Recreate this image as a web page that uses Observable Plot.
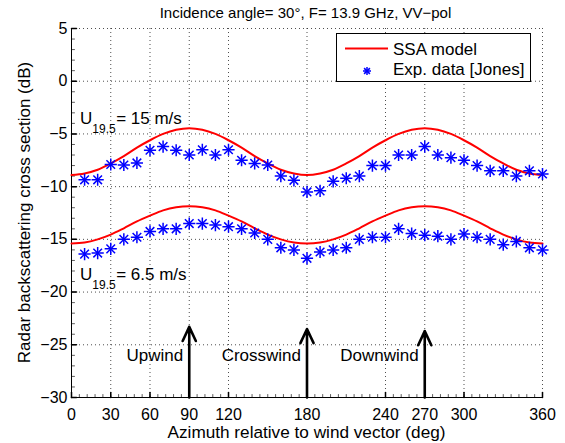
<!DOCTYPE html>
<html><head><meta charset="utf-8">
<script src="https://cdn.jsdelivr.net/npm/d3@7"></script>
<script src="https://cdn.jsdelivr.net/npm/@observablehq/plot@0.6"></script>
<style>
body{margin:0;background:#fff;}
#chart{width:565px;height:443px;}
#chart svg{font-family:"Liberation Sans",Arial,Helvetica,sans-serif;}
</style></head><body><div id="chart"></div>
<script>
// ---- data ----
const titleText = "Incidence angle= 30°, F= 13.9 GHz, VV−pol";
const xLabel = "Azimuth relative to wind vector (deg)";
const yLabel = "Radar backscattering cross section (dB)";

const azModel = [0,10,20,30,40,50,60,70,80,90,100,110,120,130,140,150,160,170,180,
                 190,200,210,220,230,240,250,260,270,280,290,300,310,320,330,340,350,360];
const ssaHigh = [-8.9,-8.75,-8.4,-7.8,-7.1,-6.3,-5.6,-5.0,-4.6,-4.45,-4.6,-5.0,-5.6,-6.3,-7.1,-7.8,-8.4,-8.75,-8.9,
                 -8.75,-8.4,-7.8,-7.1,-6.3,-5.6,-5.0,-4.6,-4.45,-4.6,-5.0,-5.6,-6.3,-7.1,-7.8,-8.4,-8.75,-8.9];
const ssaLow  = [-15.4,-15.3,-15.0,-14.55,-13.95,-13.3,-12.75,-12.25,-11.95,-11.85,-11.95,-12.25,-12.75,-13.3,-13.95,-14.55,-15.0,-15.3,-15.4,
                 -15.3,-15.0,-14.55,-13.95,-13.3,-12.75,-12.25,-11.95,-11.85,-11.95,-12.25,-12.75,-13.3,-13.95,-14.55,-15.0,-15.3,-15.4];

const azExp = [10,20,30,40,50,60,70,80,90,100,110,120,130,140,150,160,170,180,
               190,200,210,220,230,240,250,260,270,280,290,300,310,320,330,340,350,360];
const expHigh = [-9.35,-9.35,-7.9,-7.95,-7.75,-6.55,-6.2,-6.55,-7.0,-6.5,-7.0,-6.5,-7.5,-7.8,-7.95,-9.0,-9.4,-10.5,
                 -10.4,-9.5,-9.2,-9.0,-8.0,-8.0,-7.0,-7.0,-6.2,-7.0,-7.25,-7.5,-8.0,-8.5,-8.5,-9.0,-8.5,-8.8];
const expLow  = [-16.4,-16.3,-15.9,-15.0,-14.8,-14.25,-14.0,-14.0,-13.5,-13.5,-13.65,-13.8,-14.0,-14.4,-15.0,-15.8,-16.0,-16.8,
                 -16.2,-16.0,-15.8,-15.0,-14.8,-14.8,-14.0,-14.45,-14.6,-14.7,-15.0,-14.5,-14.8,-15.0,-15.5,-15.2,-15.8,-16.0];

const xTicks = [0,30,60,90,120,180,240,270,300,360];
const yTicks = [5,0,-5,-10,-15,-20,-25,-30];
const xMinor = d3.range(0, 361, 6);
const yMinor = d3.range(-30, 5.01, 1);

const windNames = ["Upwind","Crosswind","Downwind"];
const windAz = [90,180,270];
const windTip = [-23.3,-23.5,-23.7];
const windLabelDb = -26.0;
const windBase = -30;

const speedLabels = ["= 15 m/s","= 6.5 m/s"];
const speedSub = "19.5";
const speedDb = [-4.1,-18.9];

const legendNames = ["SSA model","Exp. data [Jones]"];

// ---- tables built from the arrays ----
const model = azModel.flatMap((a,i)=>[{az:a,db:ssaHigh[i],s:"high"},{az:a,db:ssaLow[i],s:"low"}]);
const exp = azExp.flatMap((a,i)=>[{az:a,db:expHigh[i]},{az:a,db:expLow[i]}]);
const wind = windNames.map((n,i)=>({name:n,az:windAz[i],tip:windTip[i],base:windBase}));

const tickShape = {draw(ctx,l){ctx.moveTo(0,0);ctx.lineTo(0,-l);}};
const minus = d => d < 0 ? "−" + (-d) : String(d);
const BLUE = "#0000ff", RED = "#ff0000";
const FONT = '"Liberation Sans",Arial,Helvetica,sans-serif';

// annotation marks drawn with d3 inside Plot function marks
function textLayer(index, scales, values, dim) {
  const g = d3.create("svg:g").attr("fill","black").attr("font-family",FONT);
  const cx = (dim.marginLeft + dim.width - dim.marginRight)/2;
  const cy = (dim.marginTop + dim.height - dim.marginBottom)/2;
  g.append("text").attr("x", cx-1).attr("y", 18).attr("text-anchor","middle")
    .attr("font-size",15).text(titleText);
  g.append("text").attr("x", cx).attr("y", dim.height-5).attr("text-anchor","middle")
    .attr("font-size",17.2).text(xLabel);
  g.append("text").attr("transform",`translate(30,${cy}) rotate(-90)`).attr("text-anchor","middle")
    .attr("font-size",17).text(yLabel);
  speedLabels.forEach((s,i)=>{
    const t = g.append("text").attr("text-anchor","start").attr("x", scales.x(0)+9)
      .attr("y", scales.y(speedDb[i])).attr("font-size",17);
    t.append("tspan").text("U");
    t.append("tspan").attr("dy",9.5).attr("font-size",12).text(speedSub);
    t.append("tspan").attr("dy",-9.5).attr("dx",0.5).text(s);
  });
  return g.node();
}
function legendLayer(index, scales, values, dim) {
  const right = dim.width - dim.marginRight - 12, top = dim.marginTop + 5;
  const w = 194, h = 48, left = right - w;
  const g = d3.create("svg:g").attr("font-family",FONT);
  g.append("rect").attr("x",left+0.5).attr("y",top+0.5).attr("width",w).attr("height",h)
    .attr("fill","white").attr("stroke","black").attr("stroke-width",1);
  g.append("line").attr("x1",left+9).attr("x2",left+52).attr("y1",top+15.5).attr("y2",top+15.5)
    .attr("stroke",RED).attr("stroke-width",2);
  const mx = left+31, my = top+38, r = 4;
  const star = g.append("g").attr("stroke",BLUE).attr("stroke-width",1.5);
  star.append("line").attr("x1",mx-r).attr("x2",mx+r).attr("y1",my).attr("y2",my);
  star.append("line").attr("x1",mx).attr("x2",mx).attr("y1",my-r).attr("y2",my+r);
  const k = r*0.72;
  star.append("line").attr("x1",mx-k).attr("x2",mx+k).attr("y1",my-k).attr("y2",my+k);
  star.append("line").attr("x1",mx-k).attr("x2",mx+k).attr("y1",my+k).attr("y2",my-k);
  legendNames.forEach((n,i)=>{
    g.append("text").attr("text-anchor","start").attr("x",left+57).attr("y",top+21.5+i*20)
      .attr("font-size",17).attr("fill","black").text(n);
  });
  return g.node();
}

const chart = Plot.plot({
  width: 565, height: 443,
  marginLeft: 71, marginRight: 23, marginTop: 28, marginBottom: 46,
  x: {domain: [0,360]},
  y: {domain: [-30,5]},
  style: {fontFamily: FONT, fontSize: "16px", background: "white"},
  marks: [
    Plot.gridX(xTicks, {stroke:"#222", strokeOpacity:0.8, strokeDasharray:"1,3"}),
    Plot.gridY(yTicks, {stroke:"#222", strokeOpacity:0.8, strokeDasharray:"1,3"}),
    Plot.vector(xMinor, {x: d=>d, frameAnchor:"bottom", length:3, anchor:"start", shape:tickShape, stroke:"#333", strokeWidth:0.8}),
    Plot.vector(xTicks, {x: d=>d, frameAnchor:"bottom", length:5, anchor:"start", shape:tickShape, stroke:"black"}),
    Plot.vector(yMinor, {y: d=>d, frameAnchor:"left", rotate:90, length:3, anchor:"start", shape:tickShape, stroke:"#333", strokeWidth:0.8}),
    Plot.vector(yTicks, {y: d=>d, frameAnchor:"left", rotate:90, length:5, anchor:"start", shape:tickShape, stroke:"black"}),
    Plot.ruleX([0], {stroke:"black"}),
    Plot.ruleY([-30], {stroke:"black"}),
    Plot.axisX(xTicks, {tickSize:0, tickPadding:11, label:null, fontSize:16, tickFormat:d=>String(d)}),
    Plot.axisY(yTicks, {tickSize:0, tickPadding:4, label:null, fontSize:16, tickFormat:minus}),
    Plot.line(model, {x:"az", y:"db", z:"s", stroke:RED, strokeWidth:2, curve:"catmull-rom"}),
    Plot.dot(exp, {x:"az", y:"db", symbol:"plus", r:4, stroke:BLUE, strokeWidth:1.5}),
    Plot.dot(exp, {x:"az", y:"db", symbol:"times", r:4, stroke:BLUE, strokeWidth:1.5}),
    Plot.arrow(wind, {x:"az", y1:"base", y2:"tip", stroke:"black", strokeWidth:2.6, headLength:9, headAngle:50}),
    Plot.text(wind, {x:"az", y:()=>windLabelDb, text:"name", textAnchor:"end", dx:-6, fontSize:17, fill:"black"}),
    textLayer,
    legendLayer
  ]
});
document.getElementById("chart").append(chart);
</script>
</body></html>
